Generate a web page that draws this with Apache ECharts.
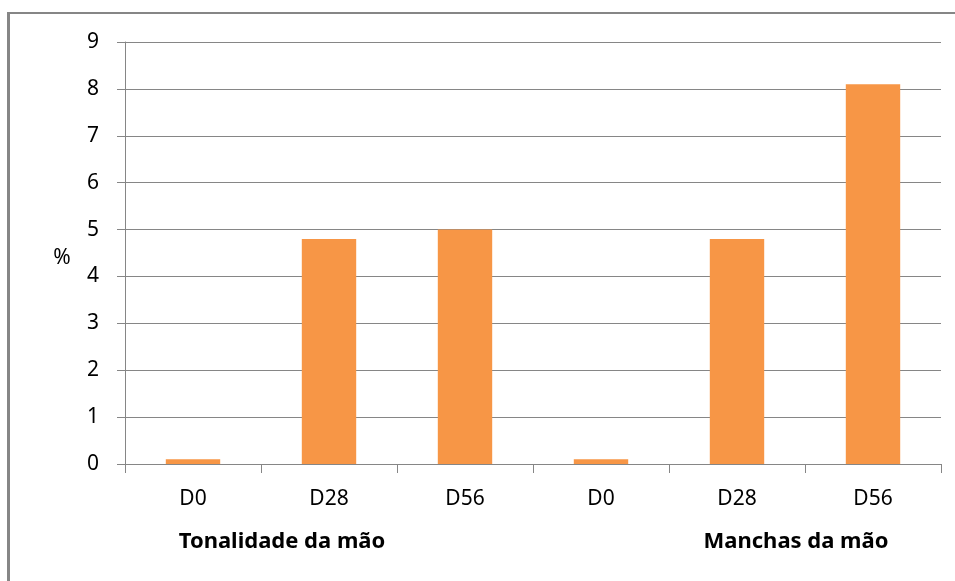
<!DOCTYPE html>
<html>
<head>
<meta charset="utf-8">
<script src="https://cdn.jsdelivr.net/npm/echarts@6/dist/echarts.min.js"></script>
<style>
html,body{margin:0;padding:0;background:#fff;}
#chart{width:955px;height:581px;}
</style>
</head>
<body>
<div id="chart"></div>
<script>
var categories = ['D0', 'D28', 'D56', 'D0', 'D28', 'D56'];
var values = [0.1, 4.8, 5.0, 0.1, 4.8, 8.1];
var yTicks = [0, 1, 2, 3, 4, 5, 6, 7, 8, 9];
var groupLabels = ['Tonalidade da mão', 'Manchas da mão'];
var yAxisTitle = '%';

var FONT = 'Noto Sans';
var GRAY = '#868686';
var chart = echarts.init(document.getElementById('chart'), null, {renderer: 'canvas'});
chart.setOption({
  animation: false,
  backgroundColor: '#ffffff',
  grid: {left: 125, right: 14, top: 42, bottom: 117, containLabel: false},
  xAxis: {
    type: 'category',
    data: categories,
    axisLine: {show: true, lineStyle: {color: GRAY, width: 1}},
    axisTick: {show: true, length: 9, lineStyle: {color: GRAY, width: 1}, interval: 0},
    axisLabel: {color: '#000', fontFamily: FONT, fontSize: 21, margin: 25, interval: 0}
  },
  yAxis: {
    type: 'value',
    min: yTicks[0],
    max: yTicks[yTicks.length - 1],
    interval: 1,
    axisLine: {show: true, lineStyle: {color: GRAY, width: 1}},
    axisTick: {show: true, length: 8, lineStyle: {color: GRAY, width: 1}},
    axisLabel: {color: '#000', fontFamily: FONT, fontSize: 21, margin: 26},
    splitLine: {show: true, lineStyle: {color: GRAY, width: 1}}
  },
  series: [{
    type: 'bar',
    data: values,
    barWidth: '40%',
    itemStyle: {color: '#F79646'}
  }],
  graphic: [
    {type: 'line', shape: {x1: 7, y1: 13, x2: 955, y2: 13}, style: {stroke: GRAY, lineWidth: 2}},
    {type: 'line', shape: {x1: 8.5, y1: 12, x2: 8.5, y2: 581}, style: {stroke: GRAY, lineWidth: 3}},
    {type: 'text', x: 62, y: 258, style: {text: yAxisTitle, fontFamily: FONT, fontSize: 21, fill: '#000', align: 'center', verticalAlign: 'middle'}},
    {type: 'text', x: 282, y: 542, style: {text: groupLabels[0], fontFamily: FONT, fontWeight: 'bold', fontSize: 22, fill: '#000', align: 'center', verticalAlign: 'middle'}},
    {type: 'text', x: 796, y: 542, style: {text: groupLabels[1], fontFamily: FONT, fontWeight: 'bold', fontSize: 22, fill: '#000', align: 'center', verticalAlign: 'middle'}}
  ]
});
</script>
</body>
</html>
